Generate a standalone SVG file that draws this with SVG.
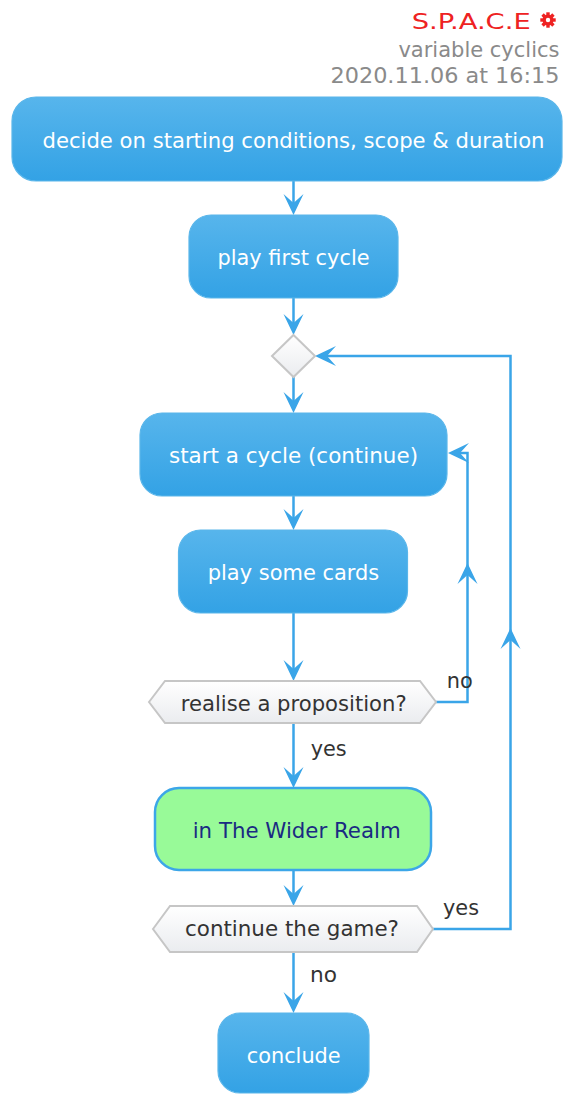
<svg xmlns="http://www.w3.org/2000/svg" xmlns:xlink="http://www.w3.org/1999/xlink" width="563" height="1095" viewBox="0 0 563 1095">
<defs>
<linearGradient id="gBlue" x1="0" y1="0" x2="0" y2="1">
<stop offset="0" stop-color="#57b5ec"/>
<stop offset="1" stop-color="#33a2e5"/>
</linearGradient>
<linearGradient id="gGray" x1="0" y1="0" x2="0" y2="1">
<stop offset="0" stop-color="#ffffff"/>
<stop offset="1" stop-color="#eaecef"/>
</linearGradient>
<path id="ah" d="M0,0 L-10,-21 L0,-12 L10,-21 Z" fill="#3aa5e8"/>
</defs>
<style>
.act{fill:url(#gBlue);stroke:#5ab6ea;stroke-width:1.2}
.green{fill:#98fa98;stroke:#3ca6e8;stroke-width:2.5}
.dec{fill:url(#gGray);stroke:#c6c6c6;stroke-width:2}
.t{font-family:"DejaVu Sans","Verdana",sans-serif;font-size:21px}
.wt{fill:#ffffff}
.dt{fill:#333333}
.lbl{fill:#333333}
.hd{fill:#8a8a8a}
.ln{fill:none;stroke:#3aa5e8;stroke-width:2.5}
</style>
<rect width="563" height="1095" fill="#ffffff"/>
<g id="header">
<text class="t" x="411.7" y="29" font-size="22" fill="#ee2222" textLength="119" lengthAdjust="spacingAndGlyphs">S.P.A.C.E</text>
<g fill="#ee2222">
<circle cx="548" cy="20" r="5.5"/>
<rect x="546.3" y="12.3" width="3.4" height="15.4"/>
<rect x="540.3" y="18.3" width="15.4" height="3.4"/>
<rect x="546.3" y="12.3" width="3.4" height="15.4" transform="rotate(45 548 20)"/>
<rect x="546.3" y="12.3" width="3.4" height="15.4" transform="rotate(-45 548 20)"/>
</g>
<circle cx="548" cy="20" r="2.2" fill="#ffffff"/>
<text class="t hd" x="559.5" y="56.5" font-size="20" text-anchor="end">variable cyclics</text>
<text class="t hd" x="559.5" y="82.5" text-anchor="end" textLength="229" lengthAdjust="spacingAndGlyphs">2020.11.06 at 16:15</text>
</g>
<g id="connectors">
<path class="ln" d="M293.5,181 V205"/>
<use xlink:href="#ah" href="#ah" transform="translate(293.5,215)"/>
<path class="ln" d="M293.5,298 V325"/>
<use xlink:href="#ah" href="#ah" transform="translate(293.5,335)"/>
<path class="ln" d="M293.5,377 V403"/>
<use xlink:href="#ah" href="#ah" transform="translate(293.5,413)"/>
<path class="ln" d="M293.5,496 V520"/>
<use xlink:href="#ah" href="#ah" transform="translate(293.5,530)"/>
<path class="ln" d="M293.5,613 V671"/>
<use xlink:href="#ah" href="#ah" transform="translate(293.5,681)"/>
<path class="ln" d="M293.5,723 V778"/>
<use xlink:href="#ah" href="#ah" transform="translate(293.5,788)"/>
<path class="ln" d="M293.5,870 V896"/>
<use xlink:href="#ah" href="#ah" transform="translate(293.5,906)"/>
<path class="ln" d="M293.5,952 V1003"/>
<use xlink:href="#ah" href="#ah" transform="translate(293.5,1013)"/>
<path class="ln" d="M436,702 H467.5 V453 H458"/>
<use xlink:href="#ah" href="#ah" transform="translate(467.5,563) rotate(180)"/>
<use xlink:href="#ah" href="#ah" transform="translate(448,453) rotate(90)"/>
<path class="ln" d="M433,929 H510.5 V356 H325"/>
<use xlink:href="#ah" href="#ah" transform="translate(510.5,628) rotate(180)"/>
<use xlink:href="#ah" href="#ah" transform="translate(315,356) rotate(90)"/>
<text class="t lbl" x="310.7" y="756" textLength="36" lengthAdjust="spacingAndGlyphs">yes</text>
<text class="t lbl" x="446.7" y="688" textLength="26" lengthAdjust="spacingAndGlyphs">no</text>
<text class="t lbl" x="443" y="915" textLength="36" lengthAdjust="spacingAndGlyphs">yes</text>
<text class="t lbl" x="310" y="982" textLength="27" lengthAdjust="spacingAndGlyphs">no</text>
</g>
<g id="n_decide">
<rect class="act" x="12" y="97" width="550" height="84" rx="24"/>
<text class="t wt" x="293.5" y="148" text-anchor="middle" textLength="502" lengthAdjust="spacingAndGlyphs">decide on starting conditions, scope &amp; duration</text>
</g>
<g id="n_first">
<rect class="act" x="189" y="215" width="209" height="83" rx="22"/>
<text class="t wt" x="293.5" y="265" text-anchor="middle" textLength="152" lengthAdjust="spacingAndGlyphs">play first cycle</text>
</g>
<g id="n_merge">
<polygon class="dec" points="293.5,335 315,356 293.5,377 272,356"/>
</g>
<g id="n_start">
<rect class="act" x="140" y="413" width="307" height="83" rx="22"/>
<text class="t wt" x="293.5" y="463" text-anchor="middle" textLength="249" lengthAdjust="spacingAndGlyphs">start a cycle (continue)</text>
</g>
<g id="n_cards">
<rect class="act" x="178.5" y="530" width="229" height="83" rx="22"/>
<text class="t wt" x="293.5" y="580" text-anchor="middle" textLength="171.6" lengthAdjust="spacingAndGlyphs">play some cards</text>
</g>
<g id="n_realise">
<polygon class="dec" points="149,702 165,681 420,681 436,702 420,723 165,723"/>
<text class="t dt" x="293.7" y="711" text-anchor="middle" textLength="226" lengthAdjust="spacingAndGlyphs">realise a proposition?</text>
</g>
<g id="n_wider">
<rect class="green" x="155" y="788" width="276" height="82" rx="24"/>
<text class="t" x="296.7" y="838" text-anchor="middle" fill="#1a2a82" textLength="208" lengthAdjust="spacingAndGlyphs">in The Wider Realm</text>
</g>
<g id="n_continue">
<polygon class="dec" points="153,929 170,906 417,906 433,929 417,952 170,952"/>
<text class="t dt" x="292" y="936" text-anchor="middle" textLength="214" lengthAdjust="spacingAndGlyphs">continue the game?</text>
</g>
<g id="n_conclude">
<rect class="act" x="218" y="1013" width="151" height="80" rx="22"/>
<text class="t wt" x="293.7" y="1063" text-anchor="middle" textLength="94" lengthAdjust="spacingAndGlyphs">conclude</text>
</g>
</svg>
